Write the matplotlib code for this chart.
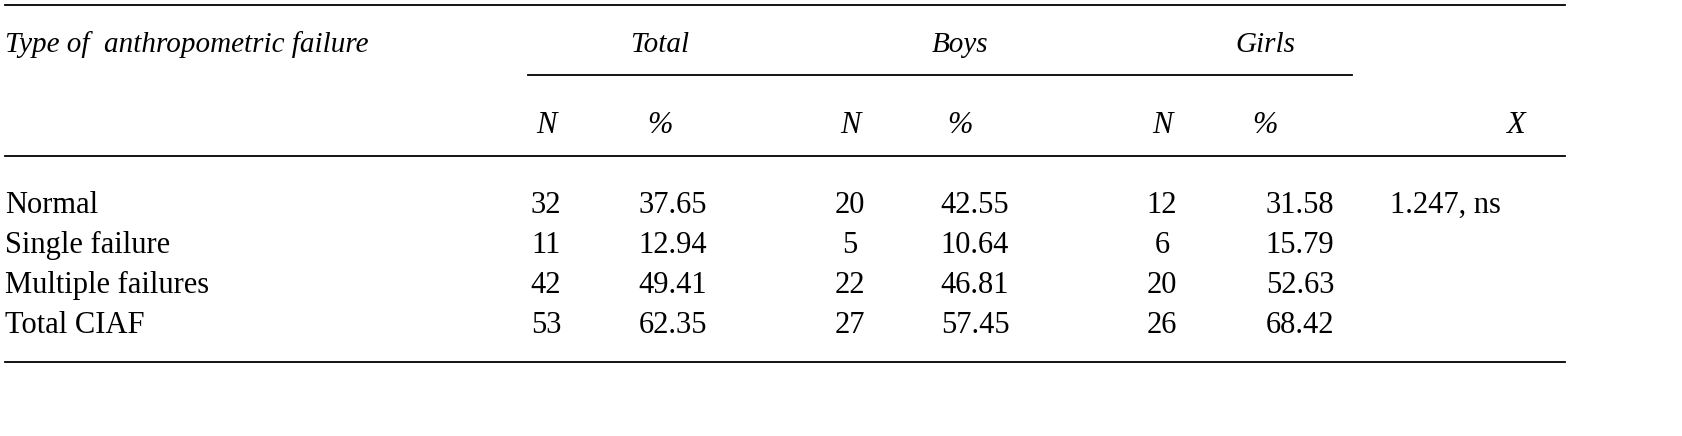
import matplotlib
matplotlib.use("Agg")
import matplotlib.pyplot as plt

row_labels = ["Normal", "Single failure", "Multiple failures", "Total CIAF"]
total_n = ["32", "11", "42", "53"]
total_p = ["37.65", "12.94", "49.41", "62.35"]
boys_n = ["20", "5", "22", "27"]
boys_p = ["42.55", "10.64", "46.81", "57.45"]
girls_n = ["12", "6", "20", "26"]
girls_p = ["31.58", "15.79", "52.63", "68.42"]
chi = ["1.247, ns", "", "", ""]
groups = ["Total", "Boys", "Girls"]
subheads = ["N", "%", "N", "%", "N", "%", "X"]

fig = plt.figure(figsize=(16.82, 4.36), dpi=100)
ax = fig.add_axes([0, 0, 1, 1])
ax.set_xlim(0, 1682); ax.set_ylim(436, 0); ax.axis("off")
fam = ["Liberation Serif", "DejaVu Serif"]
fs = 22

ax.plot([5, 1565], [5, 5], color="black", lw=1.3)
ax.plot([528, 1352], [75, 75], color="black", lw=1.3)
ax.plot([5, 1565], [156, 156], color="black", lw=1.3)
ax.plot([5, 1565], [362, 362], color="black", lw=1.3)

ax.text(5, 45, "Type of  anthropometric failure", family=fam, style="italic", fontsize=fs - 1, va="center")
for g, x in zip(groups, [660, 960, 1265]):
    ax.text(x, 45, g, family=fam, style="italic", fontsize=fs - 1, va="center", ha="center")
for s, x in zip(subheads, [546, 660, 850, 960, 1162, 1265, 1515]):
    ax.text(x, 125, s, family=fam, style="italic", fontsize=fs, va="center", ha="center")

cols = [(total_n, 546), (total_p, 673), (boys_n, 850), (boys_p, 975),
        (girls_n, 1162), (girls_p, 1300), (chi, 1445)]
ys = [205, 245, 285, 325]
for i, y in enumerate(ys):
    ax.text(5, y, row_labels[i], family=fam, fontsize=fs, va="center")
    for vals, x in cols:
        ax.text(x, y, vals[i], family=fam, fontsize=fs, va="center", ha="center")

fig.savefig("out.png", dpi=100)
